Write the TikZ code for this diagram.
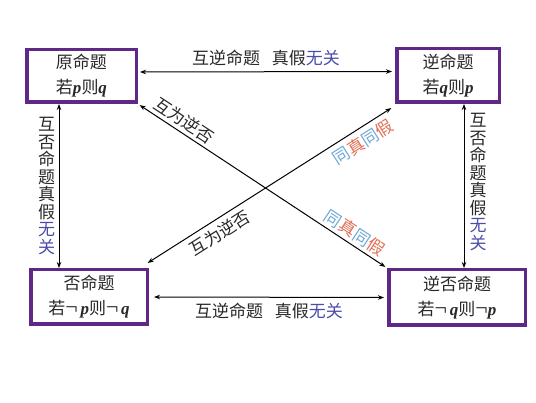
\documentclass[tikz,border=0pt]{standalone}
\usepackage{fontspec}
\newfontfamily\cjk{Noto Sans CJK SC}
\newfontfamily\lat{Liberation Serif}
\usetikzlibrary{arrows.meta}
\definecolor{boxpurple}{RGB}{95,40,135}
\definecolor{wgblue}{RGB}{75,75,170}
\definecolor{tblue}{RGB}{110,170,215}
\definecolor{tred}{RGB}{225,110,85}
\definecolor{txt}{RGB}{40,40,40}
\newcommand{\pb}{{\lat\bfseries\itshape p}}
\newcommand{\qb}{{\lat\bfseries\itshape q}}
\newcommand{\nt}{{\fontsize{22}{22}\selectfont\lat ¬}}
\begin{document}
\begin{tikzpicture}[x=1pt,y=-1pt,
  prop/.style={draw=boxpurple, line width=3.5pt, inner sep=0pt, align=center,
    font=\fontsize{17}{25}\selectfont\cjk, text=txt},
  arr/.style={{Stealth[length=6pt,width=4.5pt]}-{Stealth[length=6pt,width=4.5pt]},
    line width=1pt, black, shorten >=2pt, shorten <=2pt},
  lab/.style={font=\fontsize{17}{17.5}\selectfont\cjk, text=txt, inner sep=1pt, align=center}]
\useasboundingbox (0,0) rectangle (536,403);
\node[prop, minimum width=109.5pt, minimum height=52.5pt] (b1) at (81.5,76)
  {原命题\\若\pb 则\qb};
\node[prop, minimum width=102.5pt, minimum height=53.5pt] (b2) at (448,75.5)
  {逆命题\\若\qb 则\pb};
\node[prop, minimum width=116.5pt, minimum height=54.5pt] (b3) at (89,297)
  {否命题\\若\nt\,\pb 则\nt\,\qb};
\node[prop, minimum width=136.5pt, minimum height=55.5pt] (b4) at (457,297.5)
  {逆否命题\\若\nt\,\qb 则\nt\pb};
% horizontal
\draw[arr] ([yshift=4pt]b1.east) -- ([yshift=4pt,xshift=-1pt]b2.west)
  node[lab, midway, above=4pt] {互逆命题\hspace{0.7em}真假\textcolor{wgblue}{无关}};
\draw[arr] ([xshift=3pt]b3.east) -- ([xshift=-1pt]b4.west)
  node[lab, midway, below=4pt] {互逆命题\hspace{0.7em}真假\textcolor{wgblue}{无关}};
% vertical
\draw[arr, shorten >=0pt, shorten <=0pt] (b1.south -| 59,0) -- (b3.north -| 59,0)
  node[lab, midway, left=2.5pt] {互\\否\\命\\题\\真\\假\\\textcolor{wgblue}{无}\\\textcolor{wgblue}{关}};
\draw[arr, shorten >=0pt, shorten <=0pt] (b2.south -| 464,0) -- (b4.north -| 464,0)
  node[lab, midway, right=4pt, yshift=4pt] {互\\否\\命\\题\\真\\假\\\textcolor{wgblue}{无}\\\textcolor{wgblue}{关}};
% diagonals
\draw[arr] (b1.south east) -- (b4.north west)
  node[lab, sloped, pos=0.16, above=2.5pt] {互为逆否}
  node[lab, sloped, pos=0.845, above=2.5pt] {\textcolor{tblue}{同}\textcolor{tred}{真}\textcolor{tblue}{同}\textcolor{tred}{假}};
\draw[arr] ([xshift=-3pt,yshift=4pt]b3.north east) -- ([xshift=-2pt,yshift=-3pt]b2.south west)
  node[lab, sloped, pos=0.27, below=4pt] {互为逆否}
  node[lab, sloped, pos=0.85, below=4pt] {\textcolor{tblue}{同}\textcolor{tred}{真}\textcolor{tblue}{同}\textcolor{tred}{假}};
\end{tikzpicture}
\end{document}
